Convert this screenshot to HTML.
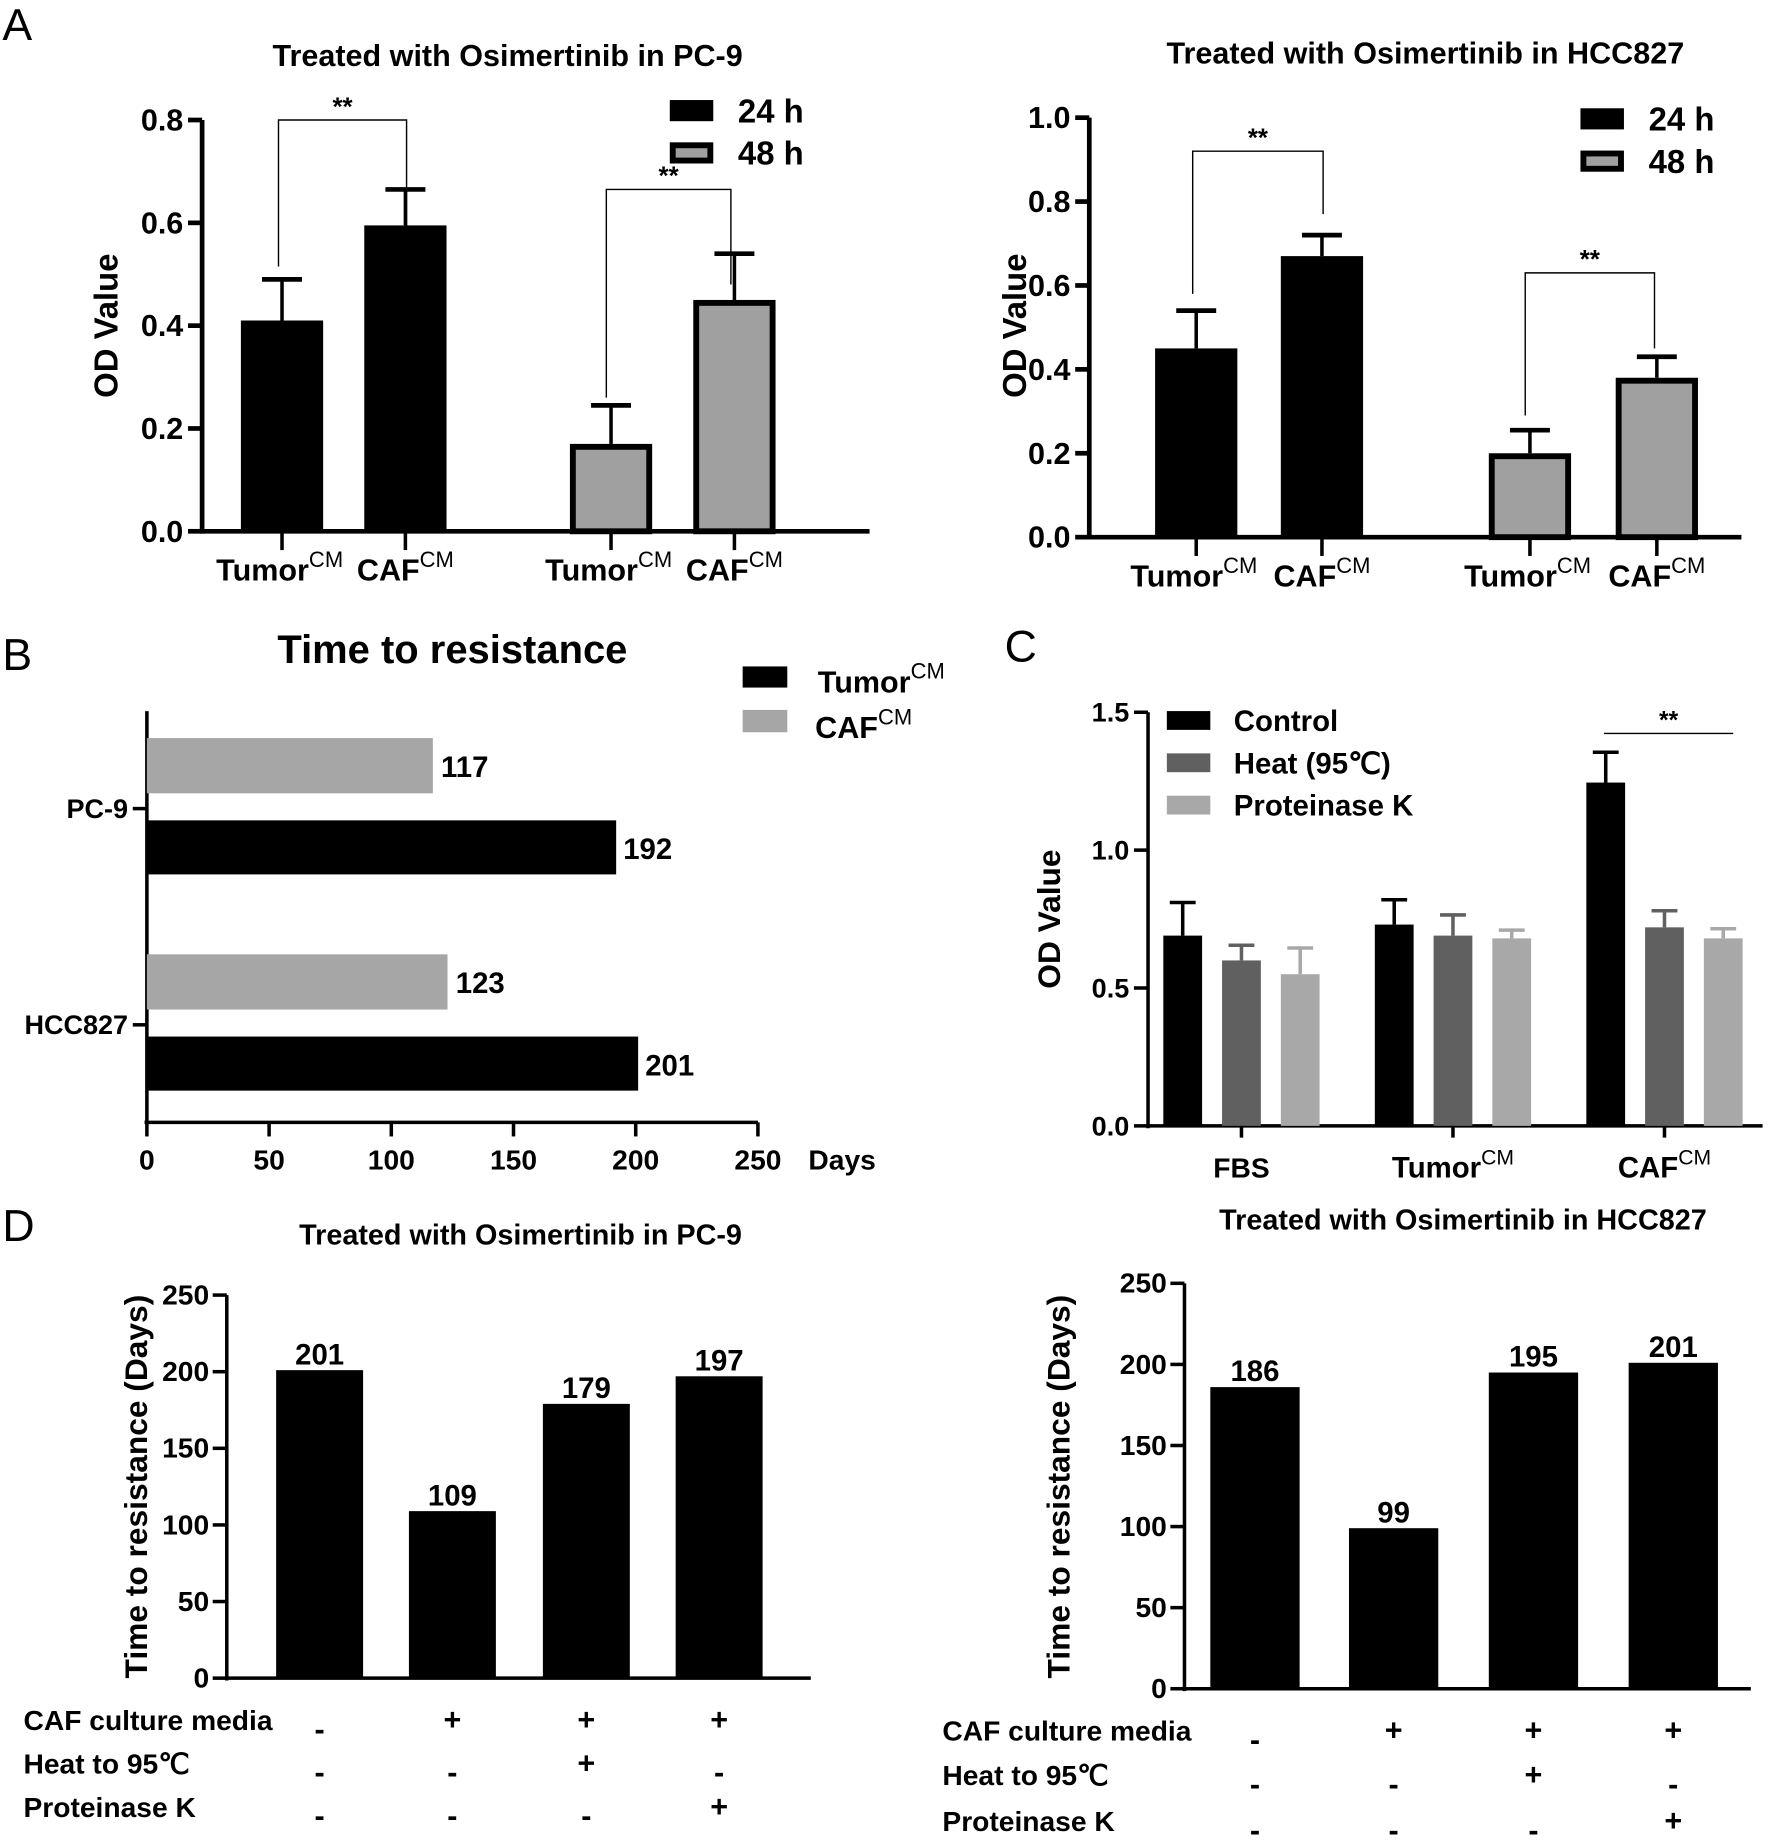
<!DOCTYPE html>
<html><head><meta charset="utf-8"><style>
html,body{margin:0;padding:0;background:#fff}
svg{display:block}
text{font-family:"Liberation Sans",sans-serif;font-weight:bold;fill:#000}
.lt{font-weight:normal}
</style></head><body>
<svg id="fig" width="1772" height="1844" viewBox="0 0 1508 1569" xmlns="http://www.w3.org/2000/svg">
<text class="lt" x="2" y="34" font-size="38">A</text>
<text class="lt" x="2" y="570" font-size="38">B</text>
<text class="lt" x="855" y="563" font-size="38">C</text>
<text class="lt" x="2" y="1056" font-size="38">D</text>
</svg>
<script>
// ---- Panel A data ----
const aGroups = ["24 h", "48 h"];
const aCats = ["Tumor", "CAF"];
const aPC9Vals = [0.41, 0.595, 0.17, 0.45];
const aPC9Errs = [0.49, 0.665, 0.245, 0.54];
const aHCCVals = [0.45, 0.67, 0.20, 0.38];
const aHCCErrs = [0.54, 0.72, 0.255, 0.43];
const aPC9Ticks = [0, 0.2, 0.4, 0.6, 0.8];
const aHCCTicks = [0, 0.2, 0.4, 0.6, 0.8, 1.0];
// ---- Panel B data ----
const bCells = ["PC-9", "HCC827"];
const bTumor = [192, 201];
const bCAF = [117, 123];
const bTicks = [0, 50, 100, 150, 200, 250];
// ---- Panel C data ----
const cCats = ["FBS", "Tumor", "CAF"];
const cSeries = ["Control", "Heat (95\u2103)", "Proteinase K"];
const cControl = [0.69, 0.73, 1.245];
const cControlErr = [0.81, 0.82, 1.355];
const cHeat = [0.60, 0.69, 0.72];
const cHeatErr = [0.655, 0.765, 0.78];
const cProt = [0.55, 0.68, 0.68];
const cProtErr = [0.645, 0.71, 0.715];
const cTicks = [0, 0.5, 1.0, 1.5];
// ---- Panel D data ----
const dPC9 = [201, 109, 179, 197];
const dHCC = [186, 99, 195, 201];
const dTicks = [0, 50, 100, 150, 200, 250];
const dRows = ["CAF culture media", "Heat to 95\u2103", "Proteinase K"];
const dSigns = [["-","+","+","+"],["-","-","+","-"],["-","-","-","+"]];

const S = document.getElementById('fig');
const NS = 'http://www.w3.org/2000/svg';
function el(tag, attrs, parent, txt){
  const e = document.createElementNS(NS, tag);
  for (const k in attrs) e.setAttribute(k, attrs[k]);
  if (txt !== undefined) e.textContent = txt;
  (parent || S).appendChild(e);
  return e;
}
function line(x1,y1,x2,y2,w,name){
  const e = el('line',{x1:x1,y1:y1,x2:x2,y2:y2,stroke:'#000','stroke-width':w});
  
  
  return e;
}
function txt(x,y,s,size,anchor,name,extra){
  const e = el('text',Object.assign({x:x,y:y,'font-size':size,'text-anchor':anchor||'start'},extra||{}),S,s);
  
  
  return e;
}
function supLabel(x,y,base,size,name){
  const e = el('text',{x:x,y:y,'font-size':size,'text-anchor':'middle'});
  
  
  el('tspan',{},e,base);
  el('tspan',{dy:-size*0.45,'font-size':size*0.72,'font-weight':'normal'},e,'CM');
  return e;
}

// ---------- Panel A ----------
function panelA(o){
  const y = v => o.y0 - (v / o.ymax) * (o.y0 - o.y1);
  txt(o.tx, o.ty, o.title, 26, 'middle', 'chart-title');
  line(o.ax, o.y0+2, o.ax, y(o.ymax), 4, 'y-axis');
  line(o.ax, o.y0, o.axEnd, o.y0, 4, 'x-axis');
  o.ticks.forEach(t=>{
    line(o.ax-12, y(t), o.ax, y(t), 4, 'y-tick');
    txt(o.ax-16, y(t)+9, t.toFixed(1), 26, 'end', 'y-tick-label');
  });
  txt(o.ylx, o.yly, 'OD Value', 28, 'middle', 'y-axis-title', {transform:`rotate(-90 ${o.ylx} ${o.yly})`});
  o.vals.forEach((v,i)=>{
    const bx = o.bx[i], gray = i >= 2;
    const r = el('rect',{x:bx+(gray?2.5:0), y:y(v)+(gray?2.5:0), width:o.bw-(gray?5:0), height:o.y0-y(v)-(gray?2.5:0),
      fill: gray?'#a0a0a0':'#000', stroke:'#000','stroke-width':gray?5:0});
    
    
    const cx = bx + o.bw/2;
    line(cx, y(v), cx, y(o.errs[i]), 3, 'error-bar');
    line(cx-17, y(o.errs[i]), cx+17, y(o.errs[i]), 4, 'error-cap');
    line(cx, o.y0, cx, o.y0+16, 3, 'x-tick');
    supLabel(cx-(i%2?0:2), o.y0+42, aCats[i%2], 26, 'x-tick-label');
  });
  o.br.forEach(b=>{
    const l = el('polyline',{points:`${b[0]},${y(b[2])} ${b[0]},${y(b[3])} ${b[1]},${y(b[3])} ${b[1]},${y(b[4])}`,fill:'none',stroke:'#000','stroke-width':1.2});
    
    
    txt((b[0]+b[1])/2, y(b[3])-4, '**', 22, 'middle', 'significance-stars');
  });
  aGroups.forEach((g,i)=>{
    const gray = i===1;
    const r = el('rect',{x:o.lx+(gray?2.5:0), y:o.ly+i*36+(gray?2.5:0), width:37-(gray?5:0), height:18-(gray?5:0), fill:gray?'#a0a0a0':'#000', stroke:'#000','stroke-width':gray?5:0});
    
    
    txt(o.lx+58, o.ly+i*36+19, g, 28, 'start', 'legend-label');
  });
}
panelA({title:'Treated with Osimertinib in PC-9', tx:432, ty:56, ax:172, axEnd:740, y0:452, y1:102, ymax:0.8,
  ticks:aPC9Ticks, vals:aPC9Vals, errs:aPC9Errs, bx:[205,310,485,590], bw:70, ylx:100, yly:277,
  br:[[237,346,0.515,0.8,0.585],[516,622,0.26,0.665,0.48]], lx:570, ly:85});
panelA({title:'Treated with Osimertinib in HCC827', tx:1213, ty:54, ax:927, axEnd:1482, y0:457, y1:100, ymax:1.0,
  ticks:aHCCTicks, vals:aHCCVals, errs:aHCCErrs, bx:[983,1090,1267,1375], bw:70, ylx:873, yly:277,
  br:[[1015,1126,0.58,0.92,0.77],[1298,1408,0.29,0.63,0.45]], lx:1345, ly:92});

// ---------- Panel B ----------
(function(){
  const x0=125, x1=645, yTop=605, yBot=955;
  const x = v => x0 + v/250*(x1-x0);
  txt(385, 564, 'Time to resistance', 34, 'middle', 'chart-title');
  line(x0, yTop, x0, yBot+2, 3, 'y-axis');
  line(x0-2, yBot, x1, yBot, 3, 'x-axis');
  bTicks.forEach(t=>{
    line(x(t), yBot, x(t), yBot+12, 3, 'x-tick');
    txt(x(t), yBot+40, String(t), 24, 'middle', 'x-tick-label');
  });
  txt(688, 995, 'Days', 24, 'start', 'x-axis-title');
  const catY = [688, 872];
  bCells.forEach((c,i)=>{
    const cy = catY[i];
    line(x0-12, cy, x0, cy, 3, 'y-tick');
    txt(x0-16, cy+8, c, 23, 'end', 'y-tick-label');
    const g = el('rect',{x:x0, y:cy-60, width:x(bCAF[i])-x0, height:47, fill:'#a6a6a6'});
    
    
    txt(x(bCAF[i])+7, cy-27, String(bCAF[i]), 25, 'start', 'bar-value-label');
    const b = el('rect',{x:x0, y:cy+10, width:x(bTumor[i])-x0, height:46, fill:'#000'});
    
    
    txt(x(bTumor[i])+6, cy+43, String(bTumor[i]), 25, 'start', 'bar-value-label');
  });
  const l1 = el('rect',{x:632,y:567,width:38,height:18,fill:'#000'});
  
  
  supLabel(750, 589, 'Tumor', 26, 'legend-label');
  const l2 = el('rect',{x:632,y:604,width:38,height:19,fill:'#a6a6a6'});
  
  
  supLabel(735, 628, 'CAF', 26, 'legend-label');
})();

// ---------- Panel C ----------
(function(){
  const ax=977, axEnd=1500, y0=958, y1=606, ymax=1.5;
  const y = v => y0 - v/ymax*(y0-y1);
  const cols = ['#000','#606060','#a8a8a8'];
  const series = [[cControl,cControlErr],[cHeat,cHeatErr],[cProt,cProtErr]];
  line(ax, y0+2, ax, y1, 3, 'y-axis');
  line(ax, y0, axEnd, y0, 3, 'x-axis');
  cTicks.forEach(t=>{
    line(ax-12, y(t), ax, y(t), 3, 'y-tick');
    txt(ax-16, y(t)+8, t.toFixed(1), 23, 'end', 'y-tick-label');
  });
  txt(902, 782, 'OD Value', 27, 'middle', 'y-axis-title', {transform:'rotate(-90 902 782)'});
  const gx = [990, 1170, 1350], bw = 33, step = 50;
  cCats.forEach((c,g)=>{
    series.forEach((s,k)=>{
      const bx = gx[g] + k*step, cx = bx + bw/2;
      const r = el('rect',{x:bx, y:y(s[0][g]), width:bw, height:y0-y(s[0][g]), fill:cols[k]});
      
      
      const e1 = el('line',{x1:cx,y1:y(s[0][g]),x2:cx,y2:y(s[1][g]),stroke:cols[k],'stroke-width':3});
      
      
      const e2 = el('line',{x1:cx-11,y1:y(s[1][g]),x2:cx+11,y2:y(s[1][g]),stroke:cols[k],'stroke-width':3});
      
      
    });
    const mx = gx[g] + step + bw/2;
    line(mx, y0, mx, y0+10, 3, 'x-tick');
    if (g === 0) txt(mx, y0+44, c, 24, 'middle', 'x-tick-label');
    else supLabel(mx, y0+44, c, 25, 'x-tick-label');
  });
  line(1365, 624, 1475, 624, 1.2, 'significance-line');
  txt(1420, 620, '**', 21, 'middle', 'significance-stars');
  cSeries.forEach((s,k)=>{
    const r = el('rect',{x:993, y:605+k*36, width:37, height:16, fill:cols[k]});
    
    
    txt(1050, 622+k*36, s, 25, 'start', 'legend-label');
  });
})();

// ---------- Panel D ----------
function panelD(o){
  const y = v => o.y0 - v/250*(o.y0-o.y1);
  txt(o.tx, o.ty, o.title, 24.5, 'middle', 'chart-title');
  line(o.ax, o.y0+2, o.ax, o.y1, 3, 'y-axis');
  line(o.ax, o.y0, o.axEnd, o.y0, 3, 'x-axis');
  dTicks.forEach(t=>{
    line(o.ax-12, y(t), o.ax, y(t), 3, 'y-tick');
    txt(o.ax-15, y(t)+8, String(t), 24, 'end', 'y-tick-label');
  });
  txt(o.ylx, o.yly, 'Time to resistance (Days)', 27, 'middle', 'y-axis-title', {transform:`rotate(-90 ${o.ylx} ${o.yly})`});
  o.vals.forEach((v,i)=>{
    const bx = o.bx[i];
    const r = el('rect',{x:bx, y:y(v), width:o.bw, height:o.y0-y(v), fill:'#000'});
    
    
    txt(bx+o.bw/2, y(v)-5, String(v), 25, 'middle', 'bar-value-label');
  });
  dRows.forEach((rname,r)=>{
    txt(o.rx, o.ry[r], rname, 24, 'start', 'condition-row-label');
    dSigns[r].forEach((s,i)=>{
      txt(o.bx[i]+o.bw/2, o.ry[r]+(s==='-'?8:0), s, 26, 'middle', 'condition-sign');
    });
  });
}
panelD({title:'Treated with Osimertinib in PC-9', tx:443, ty:1059, ax:193, axEnd:690, y0:1428, y1:1102,
  vals:dPC9, bx:[235,348,462,575], bw:74, ylx:125, yly:1265, rx:20, ry:[1472,1509,1546]});
panelD({title:'Treated with Osimertinib in HCC827', tx:1245, ty:1046, ax:1008, axEnd:1490, y0:1437, y1:1092,
  vals:dHCC, bx:[1030,1148,1267,1386], bw:76, ylx:910, yly:1265, rx:802, ry:[1481,1519,1558]});
</script>
</body></html>
